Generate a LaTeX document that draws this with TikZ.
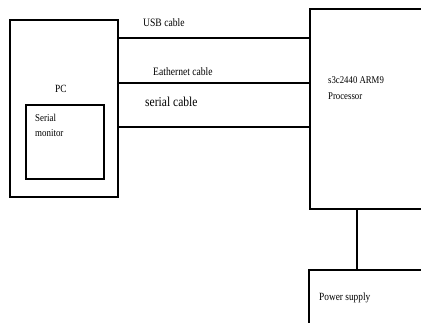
\documentclass[tikz,border=0pt]{standalone}
\usepackage{fontspec}
\setmainfont[FakeStretch=0.85]{Liberation Serif}
\begin{document}
\begin{tikzpicture}[x=1pt,y=-1pt,
  box/.style={draw=black,line width=1.8pt,inner sep=0pt,anchor=north west},
  wire/.style={line width=2pt},
  lbl/.style={inner sep=0pt,anchor=base west,font=\fontsize{11}{13}\selectfont}]
\useasboundingbox (0,0) rectangle (421,323);
\clip (0,0) rectangle (421,323);
% boxes
\node[box,minimum width=108pt,minimum height=177pt] (pc) at (9,19) {};
\node[box,minimum width=78pt,minimum height=74pt] (mon) at (25,104) {};
\node[box,minimum width=140pt,minimum height=200pt] (proc) at (309,8) {};
\node[box,minimum width=140pt,minimum height=80pt] (pwr) at (308,269) {};
% labels
\node[lbl] (pct) at (55,93) {PC};
\node[lbl,font=\fontsize{10.5}{12}\selectfont] (mon1) at (35,121.5) {Serial};
\node[lbl,font=\fontsize{10.5}{12}\selectfont] (mon2) at (35,137) {monitor};
\node[lbl,font=\fontsize{10.3}{12}\selectfont] (pr1) at (328,83.5) {s3c2440 ARM9};
\node[lbl,font=\fontsize{10.3}{12}\selectfont] (pr2) at (328,100) {Processor};
\node[lbl] (pw) at (319,301) {Power supply};
\node[lbl,font=\fontsize{11.3}{13}\selectfont] (usb) at (143,26.5) {USB cable};
\node[lbl,font=\fontsize{11.3}{13}\selectfont] (eth) at (153,76) {Eathernet cable};
\node[lbl,font=\fontsize{13.6}{15}\selectfont] (ser) at (145,106.5) {serial cable};
% connectors
\coordinate (yu) at (0,38);
\coordinate (ye) at (0,83);
\coordinate (ys) at (0,127);
\coordinate (xp) at (357,0);
\draw[wire] (pc.east |- yu) -- (proc.west |- yu);
\draw[wire] (pc.east |- ye) -- (proc.west |- ye);
\draw[wire] (pc.east |- ys) -- (proc.west |- ys);
\draw[wire] (xp |- proc.south) -- (xp |- pwr.north);
\end{tikzpicture}
\end{document}
